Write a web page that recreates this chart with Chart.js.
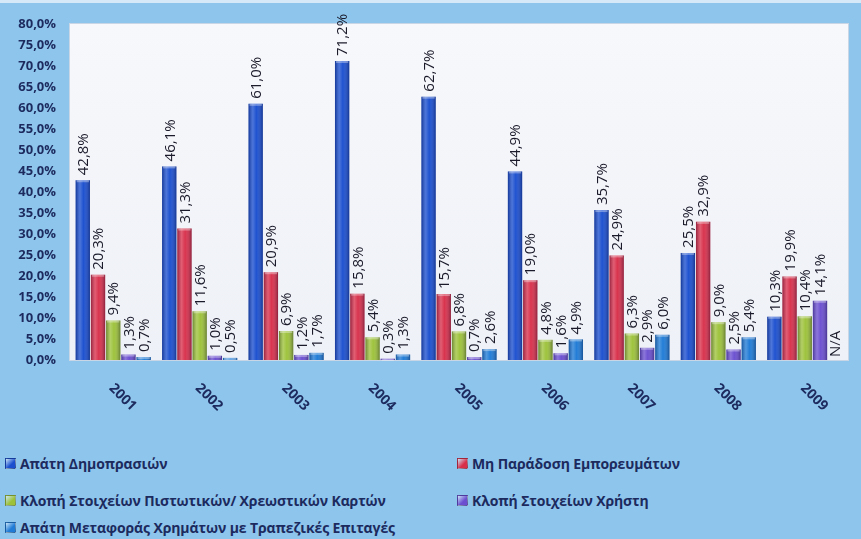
<!DOCTYPE html>
<html>
<head>
<meta charset="utf-8">
<script src="https://cdn.jsdelivr.net/npm/chart.js@4/dist/chart.umd.min.js"></script>
<style>
  html, body { margin: 0; padding: 0; }
  body {
    width: 861px; height: 539px; overflow: hidden; position: relative;
    background: #8dc5ec;
    border-top: 3px solid #d6e9f8;
    box-sizing: border-box;
    font-family: "Open Sans", sans-serif;
  }
  #wrap { position: absolute; left: 0; top: 0; width: 861px; height: 440px; }
  .leg {
    position: absolute; font-size: 14px; font-weight: 700; color: #1c2a5e;
    white-space: nowrap; line-height: 18px; letter-spacing: -0.1px;
  }
  .leg span {
    display: inline-block; width: 9px; height: 9px; margin-right: 4px;
    border: 1px solid rgba(0,0,0,0.25); vertical-align: 0px;
  }
</style>
</head>
<body>
<div id="wrap"><canvas id="chart" width="861" height="440"></canvas></div>
<div id="legend"></div>
<script>
  const years = ['2001', '2002', '2003', '2004', '2005', '2006', '2007', '2008', '2009'];
  const yTicks = [0, 5, 10, 15, 20, 25, 30, 35, 40, 45, 50, 55, 60, 65, 70, 75, 80];

  const auctionFraud = [42.8, 46.1, 61.0, 71.2, 62.7, 44.9, 35.7, 25.5, 10.3];
  const nonDelivery = [20.3, 31.3, 20.9, 15.8, 15.7, 19.0, 24.9, 32.9, 19.9];
  const cardTheft = [9.4, 11.6, 6.9, 5.4, 6.8, 4.8, 6.3, 9.0, 10.4];
  const userDataTheft = [1.3, 1.0, 1.2, 0.3, 0.7, 1.6, 2.9, 2.5, 14.1];
  const wireFraud = [0.7, 0.5, 1.7, 1.3, 2.6, 4.9, 6.0, 5.4, null];

  const seriesNames = [
    'Απάτη Δημοπρασιών',
    'Μη Παράδοση Εμπορευμάτων',
    'Κλοπή Στοιχείων Πιστωτικών/ Χρεωστικών Καρτών',
    'Κλοπή Στοιχείων Χρήστη',
    'Απάτη Μεταφοράς Χρημάτων με Τραπεζικές Επιταγές'
  ];
  const seriesColors = ['#1b4fcf', '#d8304b', '#9dc23a', '#6b4fd0', '#1f7bd6'];

  const fmt = v => v.toFixed(1).replace('.', ',') + '%';
  const navy = '#1c2a5e';

  // shading + value labels on top of every bar
  const barDecor = {
    id: 'barDecor',
    afterDatasetsDraw(chart) {
      const ctx = chart.ctx;
      chart.data.datasets.forEach((ds, di) => {
        const meta = chart.getDatasetMeta(di);
        meta.data.forEach((el, i) => {
          const p = el.getProps(['x', 'y', 'base', 'width'], true);
          const v = ds.data[i];
          const left = p.x - p.width / 2;
          if (v !== null && v !== undefined) {
            const g = ctx.createLinearGradient(left, 0, left + p.width, 0);
            g.addColorStop(0, 'rgba(0,0,30,0.30)');
            g.addColorStop(0.3, 'rgba(255,255,255,0.22)');
            g.addColorStop(0.55, 'rgba(255,255,255,0.02)');
            g.addColorStop(1, 'rgba(0,0,30,0.35)');
            ctx.fillStyle = g;
            ctx.fillRect(left, p.y, p.width, p.base - p.y);
            ctx.fillStyle = 'rgba(255,255,255,0.35)';
            ctx.fillRect(left + 1, p.y, p.width - 2, 2);
          }
          ctx.save();
          ctx.font = '15px "Open Sans"';
          ctx.fillStyle = '#1a1a2a';
          ctx.textAlign = 'left';
          ctx.textBaseline = 'middle';
          const ty = (v === null || v === undefined) ? p.base - 3 : p.y - 5;
          ctx.translate(p.x + 1, ty);
          ctx.rotate(-Math.PI / 2);
          ctx.fillText((v === null || v === undefined) ? 'N/A' : fmt(v), 0, 0);
          ctx.restore();
        });
      });
      // rotated year labels
      const xs = chart.scales.x;
      years.forEach((yr, i) => {
        const x = xs.getPixelForValue(i);
        ctx.save();
        ctx.font = 'bold 14px "Open Sans"';
        ctx.fillStyle = navy;
        ctx.textAlign = 'left';
        ctx.textBaseline = 'middle';
        ctx.translate(x - 2, 383);
        ctx.rotate(Math.PI / 4);
        ctx.fillText(yr, 0, 0);
        ctx.restore();
      });
    }
  };

  // light plot area
  const plotBg = {
    id: 'plotBg',
    beforeDraw(chart) {
      const a = chart.chartArea;
      const ctx = chart.ctx;
      const g = ctx.createLinearGradient(0, a.top, 0, a.bottom);
      g.addColorStop(0, '#f7f8fb');
      g.addColorStop(1, '#eef1f7');
      ctx.fillStyle = g;
      ctx.fillRect(a.left, a.top, a.right - a.left, a.bottom - a.top);
      ctx.strokeStyle = '#c9d6e6';
      ctx.lineWidth = 1;
      ctx.strokeRect(a.left - 0.5, a.top - 0.5, a.right - a.left + 1, a.bottom - a.top + 1);
    }
  };

  const allSeries = [auctionFraud, nonDelivery, cardTheft, userDataTheft, wireFraud];

  new Chart(document.getElementById('chart'), {
    type: 'bar',
    data: {
      labels: years,
      datasets: allSeries.map((d, i) => ({
        label: seriesNames[i],
        data: d,
        backgroundColor: seriesColors[i],
        borderWidth: 0,
        categoryPercentage: 0.88,
        barPercentage: 0.94
      }))
    },
    options: {
      responsive: false,
      animation: false,
      layout: { padding: { left: 0, right: 13, top: 21, bottom: 0 } },
      plugins: {
        legend: { display: false },
        tooltip: { enabled: false }
      },
      scales: {
        x: {
          grid: { display: false },
          border: { display: false },
          ticks: { display: false },
          afterFit(s) { s.height = 83; }
        },
        y: {
          min: 0,
          max: 80,
          afterBuildTicks(s) { s.ticks = yTicks.map(v => ({ value: v })); },
          afterFit(s) { s.width = 70; },
          grid: { display: false },
          border: { display: false },
          ticks: {
            padding: 6,
            color: navy,
            font: { family: 'Open Sans', size: 13, weight: 'bold' },
            callback: v => fmt(v)
          }
        }
      }
    },
    plugins: [plotBg, barDecor]
  });

  // legend, two columns like the original
  const legendPos = [[5, 452], [457, 452], [5, 489], [457, 489], [5, 516]];
  const legendBox = document.getElementById('legend');
  seriesNames.forEach((name, i) => {
    const d = document.createElement('div');
    d.className = 'leg';
    d.style.left = legendPos[i][0] + 'px';
    d.style.top = legendPos[i][1] + 'px';
    d.innerHTML = '<span style="background:linear-gradient(135deg,#fff8,' + seriesColors[i] + ' 60%)"></span>' + name;
    legendBox.appendChild(d);
  });
</script>
</body>
</html>
